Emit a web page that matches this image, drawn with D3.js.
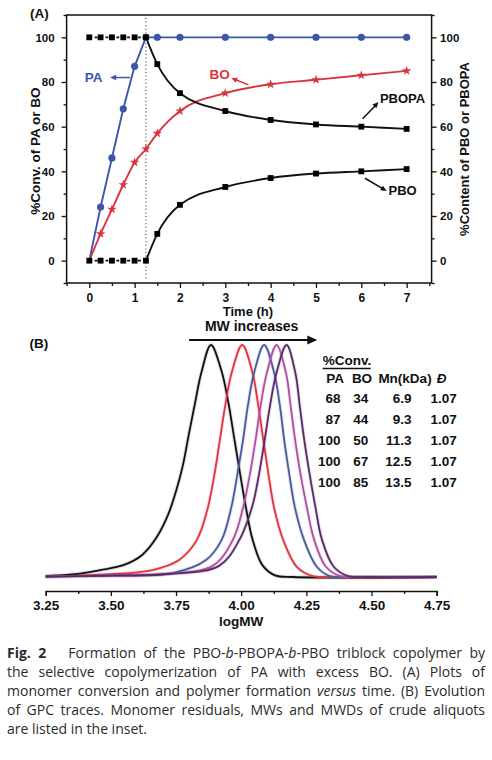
<!DOCTYPE html>
<html lang="en">
<head>
  <meta charset="UTF-8" />
  <title>PBO-b-PBOPA-b-PBO formation and GPC traces</title>
  <style>
    body {
      margin: 0;
      background: white;
      overflow: hidden;
    }
    svg {
      display: block;
    }
    .cap {
      position: absolute;
      left: 7px;
      width: 478px;
      font-family: "Open Sans", sans-serif;
      font-size: 14px;
      line-height: 19px;
      color: #2b2b2b;
      text-align: justify;
      text-align-last: justify;
    }
    .cap.last {
      text-align-last: left;
    }
  </style>
</head>
<body>
<svg id="fig" width="492" height="760"></svg>
<script src="https://d3js.org/d3.v7.min.js"></script>

<script>
// ---- panel A data: conversion / content vs time ----
const timeA = [0, 0.25, 0.5, 0.75, 1, 1.25, 1.5, 2, 3, 4, 5, 6, 7];
const convPA = [0, 24, 46, 68, 87, 100, 100, 100, 100, 100, 100, 100, 100];
const convBO = [0, 12, 23, 34, 44, 50, 57, 67, 75, 79, 81, 83, 85];
const contPBOPA = [100, 100, 100, 100, 100, 100, 88, 75, 67, 63, 61, 60, 59];
const contPBO = [0, 0, 0, 0, 0, 0, 12, 25, 33, 37, 39, 40, 41];
const switchTime = 1.25;
const timeTicks = [0, 1, 2, 3, 4, 5, 6, 7];
const pctTicks = [0, 20, 40, 60, 80, 100];

// ---- panel B data: GPC traces [logMW, normalized signal] ----
const traceBlack = [[3.25,0.004],[3.35,0.011],[3.46,0.03],[3.55,0.052],[3.62,0.095],[3.675,0.17],[3.72,0.27],[3.75,0.37],[3.776,0.48],[3.80,0.62],[3.823,0.75],[3.847,0.88],[3.884,1.0],[3.924,0.89],[3.951,0.75],[3.973,0.60],[3.995,0.45],[4.018,0.30],[4.044,0.16],[4.082,0.05],[4.13,0.007],[4.2,0],[4.75,0]];
const traceRed = [[3.25,0.003],[3.5,0.012],[3.66,0.03],[3.76,0.072],[3.83,0.16],[3.87,0.29],[3.897,0.44],[3.918,0.59],[3.938,0.734],[3.963,0.878],[4.004,1.0],[4.044,0.878],[4.066,0.734],[4.085,0.59],[4.104,0.447],[4.126,0.30],[4.161,0.16],[4.213,0.044],[4.275,0.004],[4.35,0],[4.75,0]];
const traceBlue = [[3.25,0.002],[3.5,0.008],[3.74,0.018],[3.865,0.073],[3.925,0.16],[3.962,0.30],[3.986,0.447],[4.007,0.59],[4.025,0.734],[4.049,0.878],[4.088,1.0],[4.127,0.878],[4.149,0.734],[4.165,0.59],[4.184,0.447],[4.206,0.30],[4.241,0.16],[4.29,0.044],[4.34,0.004],[4.42,0],[4.75,0]];
const traceMagenta = [[3.25,0.002],[3.45,0.005],[3.7,0.013],[3.89,0.048],[3.968,0.16],[4.008,0.303],[4.034,0.447],[4.055,0.59],[4.074,0.734],[4.098,0.878],[4.136,1.0],[4.172,0.878],[4.19,0.734],[4.207,0.59],[4.227,0.447],[4.252,0.30],[4.28,0.16],[4.325,0.044],[4.38,0.004],[4.46,0],[4.75,0]];
const tracePurple = [[3.25,0.002],[3.45,0.005],[3.72,0.013],[3.915,0.048],[3.993,0.16],[4.042,0.303],[4.069,0.447],[4.09,0.59],[4.11,0.734],[4.135,0.878],[4.174,1.0],[4.208,0.878],[4.225,0.734],[4.242,0.59],[4.262,0.447],[4.285,0.30],[4.31,0.16],[4.355,0.044],[4.41,0.004],[4.49,0],[4.75,0]];
const traceColors = ["#111111", "#e0353f", "#4a5a9e", "#b24fa0", "#5a2a68"];
const logTicks = [3.25, 3.5, 3.75, 4.0, 4.25, 4.5, 4.75];

// ---- inset table ----
const tablePA = [68, 87, 100, 100, 100];
const tableBO = [34, 44, 50, 67, 85];
const tableMn = ["6.9", "9.3", "11.3", "12.5", "13.5"];
const tableD = ["1.07", "1.07", "1.07", "1.07", "1.07"];

const captionLines = [
  "<b>Fig. 2</b>&nbsp;&nbsp;&nbsp;Formation of the PBO-<i>b</i>-PBOPA-<i>b</i>-PBO triblock copolymer by",
  "the selective copolymerization of PA with excess BO. (A) Plots of",
  "monomer conversion and polymer formation <i>versus</i> time. (B) Evolution",
  "of GPC traces. Monomer residuals, MWs and MWDs of crude aliquots",
  "are listed in the inset."
];

const font = '"Liberation Sans", Arial, sans-serif';
const blue = "#3d57a6", red = "#d8353f";

const svg = d3.select("#fig");
svg.append("rect").attr("width", 492).attr("height", 760).attr("fill", "white");

function label(g, x, y, txt, size, opts = {}) {
  return g.append("text")
    .attr("x", x).attr("y", y)
    .attr("font-family", font)
    .attr("font-weight", "bold")
    .attr("font-size", size)
    .attr("fill", opts.color || "#111")
    .attr("text-anchor", opts.anchor || "start")
    .text(txt);
}

function arrow(g, x1, y1, x2, y2, color, head = 7, width = 1.6) {
  const a = Math.atan2(y2 - y1, x2 - x1);
  const c = Math.cos(a), s = Math.sin(a);
  g.append("line")
    .attr("x1", x1).attr("y1", y1)
    .attr("x2", x2 - c * head * 0.7).attr("y2", y2 - s * head * 0.7)
    .attr("stroke", color).attr("stroke-width", width);
  const w = head * 0.45;
  const pts = [
    [x2, y2],
    [x2 - head * c + w * s, y2 - head * s - w * c],
    [x2 - head * c - w * s, y2 - head * s + w * c]
  ];
  g.append("polygon").attr("points", pts.map(p => p.join(",")).join(" ")).attr("fill", color);
}

function styleAxis(g, size) {
  g.selectAll("line").attr("stroke", "#111").attr("stroke-width", 1.3);
  g.selectAll("path.domain").attr("stroke", "#111").attr("stroke-width", 1.5);
  g.selectAll("text")
    .attr("font-family", font)
    .attr("font-weight", "bold")
    .attr("font-size", size)
    .attr("fill", "#111");
}

// ================= Panel A =================
const xA = d3.scaleLinear().domain([-0.5, 7.55]).range([66.6, 431.6]);
const yA = d3.scaleLinear().domain([-10, 110]).range([283, 15]);
const gA = svg.append("g");

const [ax0, ax1] = xA.range();
const [ay0, ay1] = yA.range();

// axes (major + minor)
gA.append("g").attr("transform", `translate(0,${ay0})`)
  .call(d3.axisBottom(xA).tickValues(timeTicks).tickSize(5).tickPadding(5).tickFormat(d3.format("d")))
  .call(g => g.select(".domain").remove())
  .call(g => styleAxis(g, 12));
gA.append("g").attr("transform", `translate(0,${ay0})`)
  .call(d3.axisBottom(xA).tickValues(d3.range(-0.5, 7.6, 1)).tickSize(3).tickFormat(""))
  .call(g => g.select(".domain").remove())
  .call(g => styleAxis(g, 12));

gA.append("g").attr("transform", `translate(${ax0},0)`)
  .call(d3.axisLeft(yA).tickValues(pctTicks).tickSize(5).tickPadding(7))
  .call(g => g.select(".domain").remove())
  .call(g => styleAxis(g, 11.5));
gA.append("g").attr("transform", `translate(${ax0},0)`)
  .call(d3.axisLeft(yA).tickValues(d3.range(-10, 111, 20)).tickSize(3).tickFormat(""))
  .call(g => g.select(".domain").remove())
  .call(g => styleAxis(g, 12));

gA.append("g").attr("transform", `translate(${ax1},0)`)
  .call(d3.axisRight(yA).tickValues(pctTicks).tickSize(5).tickPadding(3.5))
  .call(g => g.select(".domain").remove())
  .call(g => styleAxis(g, 11.5));
gA.append("g").attr("transform", `translate(${ax1},0)`)
  .call(d3.axisRight(yA).tickValues(d3.range(-10, 111, 20)).tickSize(3).tickFormat(""))
  .call(g => g.select(".domain").remove())
  .call(g => styleAxis(g, 12));

// frame
gA.append("rect")
  .attr("x", ax0).attr("y", ay1)
  .attr("width", ax1 - ax0).attr("height", ay0 - ay1)
  .attr("fill", "none").attr("stroke", "#111").attr("stroke-width", 1.5);

// dotted switch line
gA.append("line")
  .attr("x1", xA(switchTime)).attr("x2", xA(switchTime))
  .attr("y1", ay1 + 3).attr("y2", ay0 - 3)
  .attr("stroke", "#333").attr("stroke-width", 1.1)
  .attr("stroke-dasharray", "1,2.6");

const ptsA = vals => timeA.map((t, i) => [t, vals[i]]);
const lineA = curve => d3.line().x(d => xA(d[0])).y(d => yA(d[1])).curve(curve);

gA.append("path").datum(ptsA(convPA))
  .attr("d", lineA(d3.curveLinear))
  .attr("fill", "none").attr("stroke", blue).attr("stroke-width", 1.9);
gA.append("path").datum(ptsA(convBO))
  .attr("d", lineA(d3.curveMonotoneX))
  .attr("fill", "none").attr("stroke", red).attr("stroke-width", 1.9);

[contPBOPA, contPBO].forEach(vals => {
  const pts = ptsA(vals);
  gA.append("path").datum(pts.filter(d => d[0] <= switchTime))
    .attr("d", lineA(d3.curveLinear))
    .attr("fill", "none").attr("stroke", "#111").attr("stroke-width", 1.6)
    .attr("stroke-dasharray", "3,2.4");
  gA.append("path").datum(pts.filter(d => d[0] >= switchTime))
    .attr("d", lineA(d3.curveMonotoneX))
    .attr("fill", "none").attr("stroke", "#111").attr("stroke-width", 1.9);
});

// markers
gA.append("g").selectAll("circle")
  .data(ptsA(convPA).filter(d => d[0] > 0))
  .join("circle")
  .attr("cx", d => xA(d[0])).attr("cy", d => yA(d[1]))
  .attr("r", 3.6).attr("fill", blue);

const star = d3.symbol().type(d3.symbolStar).size(28);
gA.append("g").selectAll("path")
  .data(ptsA(convBO).filter(d => d[0] > 0))
  .join("path")
  .attr("transform", d => `translate(${xA(d[0])},${yA(d[1])})`)
  .attr("d", star).attr("fill", red);

const square = d3.symbol().type(d3.symbolSquare).size(34);
gA.append("g").selectAll("path")
  .data(ptsA(contPBOPA).concat(ptsA(contPBO)))
  .join("path")
  .attr("transform", d => `translate(${xA(d[0])},${yA(d[1])})`)
  .attr("d", square).attr("fill", "#000");

// annotations
label(gA, xA(-0.1), yA(80.2), "PA", 13.5, { color: blue });
arrow(gA, xA(0.9), yA(82), xA(0.46), yA(82), blue, 6, 1.5);
label(gA, xA(2.65), yA(81.2), "BO", 13.5, { color: red });
arrow(gA, xA(3.51), yA(78.7), xA(3.13), yA(81.8), red, 6, 1.5);
label(gA, xA(6.41), yA(70.5), "PBOPA", 13);
arrow(gA, xA(6.03), yA(63.5), xA(6.38), yA(71), "#111", 6, 1.5);
label(gA, xA(6.6), yA(29.4), "PBO", 13);
arrow(gA, xA(6.08), yA(36.9), xA(6.56), yA(31.2), "#111", 6, 1.5);

// axis titles
label(gA, 0, 0, "%Conv. of PA or BO", 13.5, { anchor: "middle" })
  .attr("x", null).attr("y", null)
  .attr("transform", `translate(39.5,${yA(49)}) rotate(-90)`);
label(gA, 0, 0, "%Content of PBO or PBOPA", 13, { anchor: "middle" })
  .attr("x", null).attr("y", null)
  .attr("transform", `translate(469,${yA(50)}) rotate(-90)`);
label(gA, xA(3.5), 316, "Time (h)", 13, { anchor: "middle" });
label(gA, 30, 18, "(A)", 13.5);

// ================= Panel B =================
const xB = d3.scaleLinear().domain([3.25, 4.75]).range([45.7, 436.7]);
const yB = d3.scaleLinear().domain([0, 1]).range([577, 345]);
const gB = svg.append("g");

gB.append("g").attr("transform", "translate(0,591)")
  .call(d3.axisBottom(xB).tickValues(logTicks).tickSizeOuter(0).tickSize(5).tickPadding(4).tickFormat(d3.format(".2f")))
  .call(g => styleAxis(g, 13.5));
gB.append("g").attr("transform", "translate(0,591)")
  .call(d3.axisBottom(xB).tickValues(d3.range(3.375, 4.7, 0.25)).tickSize(3).tickFormat(""))
  .call(g => g.select(".domain").remove())
  .call(g => styleAxis(g, 12));

label(gB, xB(4.0), 625.5, "logMW", 13.5, { anchor: "middle" });
label(gB, 29.5, 348, "(B)", 13.5);

const lineB = d3.line().x(d => xB(d[0])).y(d => yB(d[1])).curve(d3.curveCatmullRom.alpha(0.5));
const traces = [traceBlack, traceRed, traceBlue, traceMagenta, tracePurple];

// soft halo under each trace, like the scanned original
gB.append("g").selectAll("path")
  .data(traces)
  .join("path")
  .attr("d", lineB)
  .attr("fill", "none")
  .attr("stroke", (d, i) => traceColors[i])
  .attr("stroke-opacity", 0.15)
  .attr("stroke-width", 3.8);
gB.append("g").selectAll("path")
  .data(traces)
  .join("path")
  .attr("d", lineB)
  .attr("fill", "none")
  .attr("stroke", (d, i) => traceColors[i])
  .attr("stroke-width", 1.8);

label(gB, xB(4.04), 331, "MW increases", 14, { anchor: "middle" });
arrow(gB, xB(3.8), 340, xB(4.292), 340, "#111", 10, 2);

// inset table
const tg = gB.append("g");
label(tg, 322.7, 365, "%Conv.", 13.5);
tg.append("line")
  .attr("x1", 322.7).attr("x2", 370.7)
  .attr("y1", 368.5).attr("y2", 368.5)
  .attr("stroke", "#111").attr("stroke-width", 1.3);
label(tg, 335.2, 383, "PA", 13.5, { anchor: "middle" });
label(tg, 362, 383, "BO", 13.5, { anchor: "middle" });
label(tg, 405, 383, "Mn(kDa)", 13.5, { anchor: "middle" });
label(tg, 441.5, 383, "Đ", 13.5, { anchor: "middle" }).attr("font-style", "italic");

const rowY = d3.scaleLinear().domain([0, 4]).range([403.3, 486.7]);
tablePA.forEach((v, i) => {
  label(tg, 340.5, rowY(i), v, 13.5, { anchor: "end" });
  label(tg, 368.3, rowY(i), tableBO[i], 13.5, { anchor: "end" });
  label(tg, 411.5, rowY(i), tableMn[i], 13.5, { anchor: "end" });
  label(tg, 456.7, rowY(i), tableD[i], 13.5, { anchor: "end" });
});

// ================= Caption =================
d3.select("body").selectAll("div.cap")
  .data(captionLines)
  .join("div")
  .attr("class", (d, i) => i === captionLines.length - 1 ? "cap last" : "cap")
  .style("top", (d, i) => (643 + i * 19) + "px")
  .html(d => d);
</script>
</body>
</html>
